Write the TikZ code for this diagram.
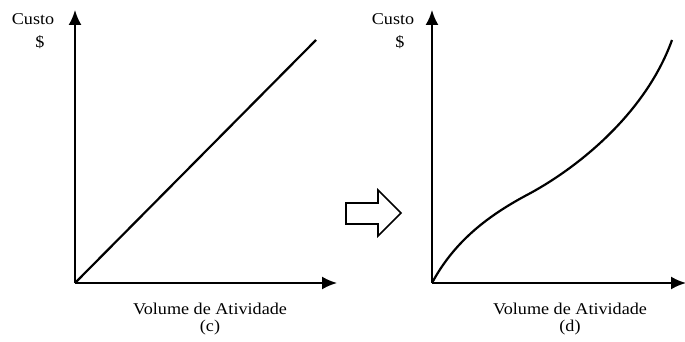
\documentclass[tikz,border=0pt]{standalone}
\usepackage{fontspec}
\setmainfont{Liberation Serif}[FakeStretch=1.1]
\usetikzlibrary{arrows.meta}
\begin{document}
\begin{tikzpicture}[x=1pt,y=-1pt,
  axis/.style={line width=2pt,-{Latex[length=15pt,width=13pt]}},
  curve/.style={line width=2.2pt},
  lbl/.style={font=\fontsize{16.5}{20}\selectfont,inner sep=0pt},
  bigarrow/.style={line width=1.6pt,line join=miter}]
\useasboundingbox (0,0) rectangle (685,342);
% left chart
\coordinate (oc) at (75,283);
\coordinate (yc) at (75,10);
\coordinate (xc) at (337,283);
\coordinate (ec) at (316,40);
\draw[axis] (oc) -- (yc);
\draw[axis] (oc) -- (xc);
\draw[curve] (oc) -- (ec);
\node[lbl] (custoc) at (33,19) {Custo};
\node[lbl] (dolc) at (40,42) {\$};
\node[lbl] (volc) at (210,309) {Volume de Atividade};
\node[lbl] (c) at (210,328) {(c)};
% right chart
\coordinate (od) at (432,283);
\coordinate (yd) at (432,10);
\coordinate (xd) at (686,283);
\draw[axis] (od) -- (yd);
\draw[axis] (od) -- (xd);
\draw[curve] (od) .. controls (455,240) and (490,215) .. (525,196)
   .. controls (575,170) and (645,115) .. (672,40);
\node[lbl] (custod) at (393,19) {Custo};
\node[lbl] (dold) at (400,42) {\$};
\node[lbl] (vold) at (570,309) {Volume de Atividade};
\node[lbl] (d) at (570,328) {(d)};
% big arrow
\draw[bigarrow] (346,203) -- (378,203) -- (378,190) -- (401,213) -- (378,236) -- (378,224) -- (346,224) -- cycle;
\end{tikzpicture}
\end{document}
